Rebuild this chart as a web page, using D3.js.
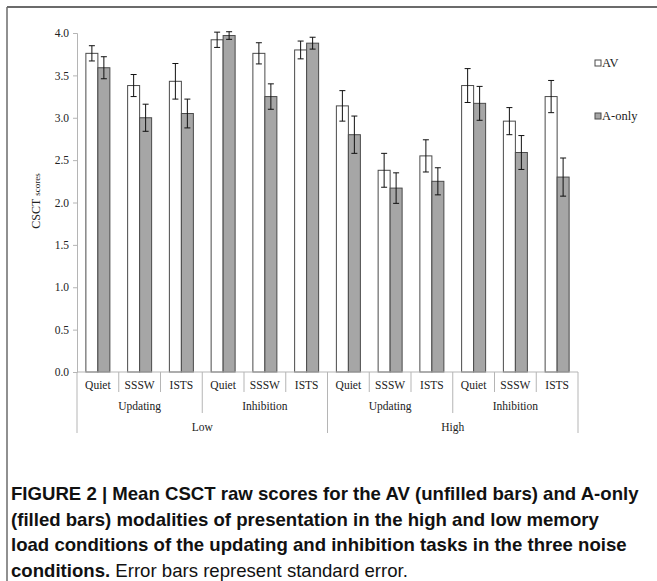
<!DOCTYPE html>
<html>
<head>
<meta charset="utf-8">
<script src="https://d3js.org/d3.v7.min.js"></script>
<style>
  body { margin: 0; background: #fff; }
  svg { display: block; }
  .tick text { font-family: "Liberation Serif", "Times New Roman", serif; }
</style>
</head>
<body>
<script>
// categories, three levels
var loads = ["Low", "High"];
var tasks = ["Updating", "Inhibition"];
var noises = ["Quiet", "SSSW", "ISTS"];
var series = ["AV", "A-only"];

// means and standard errors, in order Low/Updating/Quiet ... High/Inhibition/ISTS
var avMeans = [3.76, 3.38, 3.43, 3.92, 3.76, 3.80, 3.14, 2.38, 2.55, 3.38, 2.96, 3.25];
var avSE    = [0.09, 0.13, 0.21, 0.09, 0.125, 0.105, 0.18, 0.20, 0.19, 0.20, 0.16, 0.19];
var aMeans  = [3.59, 3.00, 3.05, 3.97, 3.25, 3.88, 2.80, 2.17, 2.25, 3.17, 2.59, 2.30];
var aSE     = [0.13, 0.16, 0.17, 0.045, 0.15, 0.07, 0.22, 0.18, 0.16, 0.20, 0.20, 0.225];

var yTicks = [0, 0.5, 1, 1.5, 2, 2.5, 3, 3.5, 4];

var captionBold = ["FIGURE 2 | Mean CSCT raw scores for the AV (unfilled bars) and A-only",
  "(filled bars) modalities of presentation in the high and low memory",
  "load conditions of the updating and inhibition tasks in the three noise",
  "conditions."];
var captionRest = " Error bars represent standard error.";

var W = 657, H = 581;
var serif = "'Liberation Serif', 'Times New Roman', serif";

var svg = d3.select("body").append("svg")
    .attr("width", W)
    .attr("height", H);

// frame lines
svg.append("line").attr("x1", 7).attr("x2", W).attr("y1", 7).attr("y2", 7)
  .attr("stroke", "#6b6b6b").attr("stroke-width", 2);
svg.append("line").attr("x1", 7).attr("x2", 7).attr("y1", 7).attr("y2", H)
  .attr("stroke", "#6b6b6b").attr("stroke-width", 1.5);

// build the rows
var data = [];
loads.forEach(function(l) {
  tasks.forEach(function(t) {
    noises.forEach(function(n) {
      var i = data.length;
      data.push({load: l, task: t, noise: n, i: i,
        vals: [{s: "AV", m: avMeans[i], se: avSE[i]},
               {s: "A-only", m: aMeans[i], se: aSE[i]}]});
    });
  });
});

var x = d3.scaleBand().domain(d3.range(data.length)).range([77, 578]);
var xs = d3.scaleBand().domain(series).range([0, x.bandwidth()])
    .paddingInner(0).paddingOuter(0.74);
var y = d3.scaleLinear().domain([0, 4]).range([372, 33]);
var fill = d3.scaleOrdinal().domain(series).range(["#ffffff", "#a6a6a6"]);

// y axis
var yAxis = svg.append("g")
    .attr("transform", "translate(77,0)")
    .call(d3.axisLeft(y).tickValues(yTicks).tickSize(4).tickPadding(4)
      .tickFormat(d3.format(".1f")));
yAxis.select(".domain").attr("stroke", "#b5b5b5");
yAxis.selectAll(".tick line").attr("stroke", "#b5b5b5");
yAxis.selectAll(".tick text").attr("font-size", "11.5px").attr("fill", "#222");

svg.append("text")
    .attr("transform", "translate(40,201) rotate(-90)")
    .attr("text-anchor", "middle")
    .attr("font-family", serif)
    .attr("fill", "#222")
    .call(function(t) {
      t.append("tspan").attr("font-size", "12px").text("CSCT ");
      t.append("tspan").attr("font-size", "9px").text("scores");
    });

// bars
var g = svg.selectAll(".grp").data(data).enter().append("g")
    .attr("class", "grp")
    .attr("transform", function(d) { return "translate(" + x(d.i) + ",0)"; });

g.selectAll("rect").data(function(d) { return d.vals; }).enter().append("rect")
    .attr("x", function(d) { return xs(d.s); })
    .attr("y", function(d) { return y(d.m); })
    .attr("width", xs.bandwidth())
    .attr("height", function(d) { return y(0) - y(d.m); })
    .attr("fill", function(d) { return fill(d.s); })
    .attr("stroke", "#4a4a4a")
    .attr("stroke-width", 1);

// error bars
var eb = g.selectAll(".err").data(function(d) { return d.vals; }).enter().append("g")
    .attr("class", "err")
    .attr("stroke", "#111")
    .attr("stroke-width", 1);
eb.append("line")
    .attr("x1", function(d) { return xs(d.s) + xs.bandwidth() / 2; })
    .attr("x2", function(d) { return xs(d.s) + xs.bandwidth() / 2; })
    .attr("y1", function(d) { return y(d.m + d.se); })
    .attr("y2", function(d) { return y(d.m - d.se); });
[1, -1].forEach(function(sign) {
  eb.append("line")
    .attr("x1", function(d) { return xs(d.s) + xs.bandwidth() / 2 - 3; })
    .attr("x2", function(d) { return xs(d.s) + xs.bandwidth() / 2 + 3; })
    .attr("y1", function(d) { return y(d.m + sign * d.se); })
    .attr("y2", function(d) { return y(d.m + sign * d.se); });
});

// x axis, three levels of labels
var axisG = svg.append("g").attr("stroke", "#b5b5b5");
axisG.append("line").attr("x1", 77).attr("x2", 578)
  .attr("y1", y(0)).attr("y2", y(0));
d3.range(data.length + 1).forEach(function(k) {
  var xp = k < data.length ? x(k) : x.range()[1];
  var bottom = k % 6 === 0 ? 433 : (k % 3 === 0 ? 413 : 392);
  axisG.append("line").attr("x1", xp).attr("x2", xp)
    .attr("y1", y(0)).attr("y2", bottom);
});

var lab = svg.append("g")
    .attr("font-family", serif)
    .attr("font-size", "11.5px")
    .attr("fill", "#222")
    .attr("text-anchor", "middle");
lab.selectAll(".n").data(data).enter().append("text")
    .attr("x", function(d) { return x(d.i) + x.bandwidth() / 2; })
    .attr("y", 389)
    .text(function(d) { return d.noise; });
var taskRows = d3.range(loads.length * tasks.length);
lab.selectAll(".t").data(taskRows).enter().append("text")
    .attr("x", function(k) { return x(k * 3) + x.bandwidth() * 1.5; })
    .attr("y", 410)
    .text(function(k) { return tasks[k % tasks.length]; });
lab.selectAll(".l").data(loads).enter().append("text")
    .attr("x", function(d, k) { return x(k * 6) + x.bandwidth() * 3; })
    .attr("y", 431)
    .text(function(d) { return d; });

// legend
var leg = svg.selectAll(".leg").data(series).enter().append("g")
    .attr("transform", function(d, k) { return "translate(595," + (63 + k * 53) + ")"; });
leg.append("rect")
    .attr("x", 0).attr("y", -3).attr("width", 6).attr("height", 6)
    .attr("fill", function(d) { return fill(d); })
    .attr("stroke", "#4a4a4a");
leg.append("text")
    .attr("x", 7).attr("y", 4)
    .attr("font-family", serif)
    .attr("font-size", "12.5px")
    .attr("fill", "#222")
    .text(function(d) { return d; });

// caption
var cap = svg.append("g")
    .attr("font-family", "'Liberation Sans', Arial, sans-serif")
    .attr("font-size", "18.6px")
    .attr("fill", "#111");
captionBold.forEach(function(line, k) {
  var t = cap.append("text").attr("x", 11).attr("y", 500 + k * 25.5);
  t.append("tspan").attr("font-weight", "bold").text(line);
  if (k === captionBold.length - 1) t.append("tspan").text(captionRest);
});
</script>
</body>
</html>
